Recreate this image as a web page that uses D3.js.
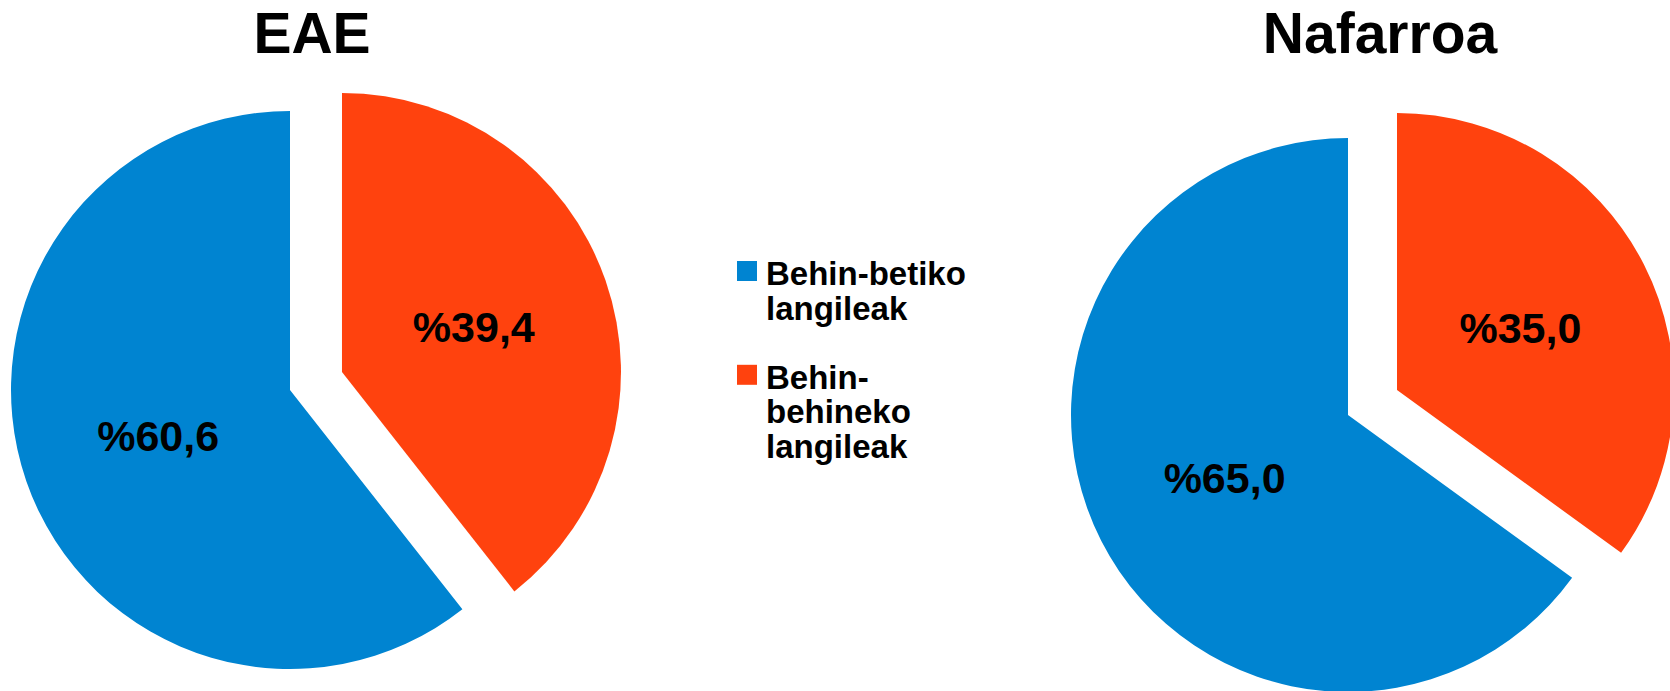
<!DOCTYPE html>
<html>
<head>
<meta charset="utf-8">
<script src="https://cdn.jsdelivr.net/npm/d3@7"></script>
<style>
  html, body { margin: 0; padding: 0; background: #fff; }
  svg { display: block; font-family: "Liberation Sans", Arial, sans-serif; font-weight: bold; }
</style>
</head>
<body>
<svg id="chart" width="1670" height="691"></svg>
<script>
// Employment type shares (%)
const categories = ["Behin-betiko langileak", "Behin-behineko langileak"];
const regions = ["EAE", "Nafarroa"];
const eaeValues = [60.6, 39.4];
const nafarroaValues = [65.0, 35.0];
const legendLines = [["Behin-betiko", "langileak"], ["Behin-", "behineko", "langileak"]];
const colors = ["#0084d1", "#ff420e"];

const svg = d3.select("#chart");
const color = d3.scaleOrdinal().domain(categories).range(colors);

// Temporary slice first (clockwise from 12 o'clock), permanent slice after it
const pie = d3.pie().sort(null).value(d => d.value);

const pies = [
  { title: regions[0], values: eaeValues, cx: 290, cy: 390, r: 279, titleX: 312 },
  { title: regions[1], values: nafarroaValues, cx: 1348, cy: 415, r: 277, titleX: 1380 }
];
const explode = 55;

pies.forEach(p => {
  const data = [
    { cat: categories[1], value: p.values[1] },
    { cat: categories[0], value: p.values[0] }
  ];
  const arcs = pie(data);
  const arc = d3.arc().innerRadius(0).outerRadius(p.r);
  const g = svg.append("g").attr("transform", `translate(${p.cx},${p.cy})`);

  const slices = g.selectAll("g.slice").data(arcs).join("g")
    .attr("class", "slice")
    .attr("transform", d => {
      if (d.data.cat !== categories[1]) return null;
      const mid = (d.startAngle + d.endAngle) / 2;
      return `translate(${Math.sin(mid) * explode},${-Math.cos(mid) * explode})`;
    });

  slices.append("path")
    .attr("d", arc)
    .attr("fill", d => color(d.data.cat));

  slices.append("text")
    .attr("transform", d => `translate(${arc.centroid(d)})`)
    .attr("text-anchor", "middle")
    .attr("dy", "0.36em")
    .attr("font-size", 43)
    .attr("fill", "#000")
    .text(d => "%" + d3.format(".1f")(d.value).replace(".", ","));

  svg.append("text")
    .attr("x", p.titleX)
    .attr("y", 53)
    .attr("text-anchor", "middle")
    .attr("font-size", 57)
    .attr("fill", "#000")
    .text(p.title);
});

// Legend
const legend = svg.append("g").attr("transform", "translate(737,0)");
const lineH = 34.6;
let baseY = 285;
categories.forEach((c, i) => {
  const item = legend.append("g");
  item.append("rect")
    .attr("x", 0).attr("y", baseY - 24)
    .attr("width", 20).attr("height", 20)
    .attr("fill", color(c));
  const t = item.append("text")
    .attr("x", 29).attr("y", baseY)
    .attr("font-size", 33)
    .attr("fill", "#000");
  legendLines[i].forEach((ln, j) => {
    t.append("tspan").attr("x", 29).attr("y", baseY + j * lineH).text(ln);
  });
  baseY += (legendLines[i].length + 1) * lineH;
});
</script>
</body>
</html>
